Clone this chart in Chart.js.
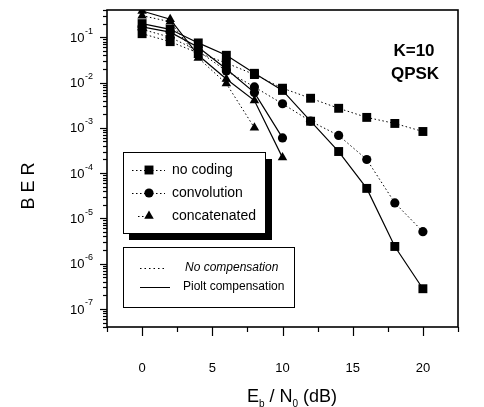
<!DOCTYPE html>
<html>
<head>
<meta charset="utf-8">
<script src="https://cdn.jsdelivr.net/npm/chart.js@4.4.1/dist/chart.umd.min.js"></script>
<style>
  html, body { margin: 0; padding: 0; background: #fff; }
  #wrap { width: 484px; height: 407px; position: relative; }
</style>
</head>
<body>
<div id="wrap"><canvas id="berChart"></canvas></div>
<script>
// Eb/N0 (dB) sample points
const ebno = [0, 2, 4, 6, 8, 10, 12, 14, 16, 18, 20];

// BER values (dotted = no compensation, solid = pilot compensation)
const noCodingNoComp = [0.12, 0.08, 0.045, 0.027, 0.015, 0.0075, 0.0045, 0.0027, 0.0017, 0.00125, 0.00083];
const noCodingPilot = [0.2, 0.15, 0.075, 0.04, 0.016, 0.0067, 0.0014, 0.0003, 0.000046, 0.0000024, 0.00000028];
const convNoComp = [0.15, 0.1, 0.05, 0.018, 0.008, 0.0034, 0.0014, 0.00068, 0.0002, 0.000022, 0.0000051];
const convPilot = [0.17, 0.13, 0.06, 0.02, 0.006, 0.0006];
const concatNoComp = [0.3, 0.22, 0.035, 0.0095, 0.001];
const concatPilot = [0.38, 0.25, 0.04, 0.012, 0.004, 0.00022];

// axis ticks
const xTickLabels = [0, 5, 10, 15, 20];
const yDecades = [-1, -2, -3, -4, -5, -6, -7];

const FONT = "'Liberation Sans', Arial, sans-serif";
const DOTS = [1.5, 2.5];

function pts(values) {
    return values.map((v, i) => ({ x: ebno[i], y: v }));
}

function series(label, values, style, dotted) {
    return {
        label: label,
        data: pts(values),
        borderColor: '#000',
        backgroundColor: '#000',
        borderWidth: dotted ? 1 : 1.2,
        borderDash: dotted ? DOTS : [],
        pointStyle: style,
        pointRadius: style === 'rect' ? 6.3 : (style === 'triangle' ? 5.5 : 4.6),
        pointBorderWidth: 0,
        tension: 0
    };
}

// frame, ticks, labels and the two legend boxes
const decorations = {
    id: 'decorations',
    afterDraw(chart) {
        const { ctx, chartArea: a, scales: { x, y } } = chart;
        ctx.save();
        ctx.strokeStyle = '#000';
        ctx.fillStyle = '#000';

        // plot frame
        ctx.lineWidth = 1.6;
        ctx.strokeRect(a.left, a.top, a.right - a.left, a.bottom - a.top);

        // y ticks (major + minor) on log scale
        ctx.lineWidth = 1.2;
        for (let e = -8; e <= 0; e++) {
            for (let m = 1; m <= 9; m++) {
                const v = m * Math.pow(10, e);
                if (v < y.min || v > y.max) continue;
                const py = Math.round(y.getPixelForValue(v)) + 0.5;
                const len = m === 1 ? 7 : 4;
                ctx.beginPath();
                ctx.moveTo(a.left - len, py);
                ctx.lineTo(a.left, py);
                ctx.stroke();
            }
        }

        // y labels 10^n
        yDecades.forEach(e => {
            const py = y.getPixelForValue(Math.pow(10, e));
            const exp = String(e);
            ctx.font = '9px ' + FONT;
            const ew = ctx.measureText(exp).width;
            ctx.textAlign = 'left';
            ctx.textBaseline = 'middle';
            ctx.fillText(exp, 93 - ew, py - 6);
            ctx.font = '13px ' + FONT;
            ctx.textAlign = 'right';
            ctx.fillText('10', 92.5 - ew, py + 1);
        });

        // x ticks
        for (let v = -2.5; v <= 22.5; v += 2.5) {
            const px = Math.round(x.getPixelForValue(v)) + 0.5;
            const len = v % 5 === 0 ? 9 : 5;
            ctx.beginPath();
            ctx.moveTo(px, a.bottom);
            ctx.lineTo(px, a.bottom + len);
            ctx.stroke();
        }

        // axis titles
        ctx.save();
        ctx.translate(29, 186);
        ctx.rotate(-Math.PI / 2);
        ctx.font = '18px ' + FONT;
        ctx.textAlign = 'center';
        ctx.textBaseline = 'middle';
        ctx.fillText('B E R', 0, 0);
        ctx.restore();

        const parts = [['E', 18, 0], ['b', 10, 5], [' / N', 18, 0], ['0', 10, 5], [' (dB)', 18, 0]];
        let total = 0;
        parts.forEach(p => { ctx.font = p[1] + 'px ' + FONT; total += ctx.measureText(p[0]).width; });
        let cx = 292 - total / 2;
        ctx.textAlign = 'left';
        ctx.textBaseline = 'alphabetic';
        parts.forEach(p => {
            ctx.font = p[1] + 'px ' + FONT;
            ctx.fillText(p[0], cx, 402 + p[2]);
            cx += ctx.measureText(p[0]).width;
        });

        // annotation
        ctx.font = 'bold 17px ' + FONT;
        ctx.textAlign = 'center';
        ctx.textBaseline = 'middle';
        ctx.fillText('K=10', 414, 51);
        ctx.fillText('QPSK', 415, 74);

        // legend box 1 with drop shadow
        ctx.fillRect(129, 159, 143, 81);
        ctx.fillStyle = '#fff';
        ctx.fillRect(123, 152, 142, 81);
        ctx.lineWidth = 1;
        ctx.strokeRect(123.5, 152.5, 142, 81);

        const entries = [['no coding', 'rect', 6.3, 170, 132], ['convolution', 'circle', 4.6, 193, 132], ['concatenated', 'triangle', 5.5, 216, 138]];
        entries.forEach(en => {
            ctx.strokeStyle = '#000';
            ctx.lineWidth = 1;
            ctx.setLineDash(DOTS);
            ctx.beginPath();
            ctx.moveTo(en[4], en[3] + 0.5);
            ctx.lineTo(en[1] === 'triangle' ? 149 : 165, en[3] + 0.5);
            ctx.stroke();
            ctx.setLineDash([]);
            ctx.fillStyle = '#000';
            Chart.helpers.drawPoint(ctx, { pointStyle: en[1], radius: en[2], rotation: 0, borderWidth: 0 }, 149, en[3]);
            ctx.font = '14px ' + FONT;
            ctx.textAlign = 'left';
            ctx.textBaseline = 'middle';
            ctx.fillText(en[0], 172, en[3]);
        });

        // legend box 2
        ctx.strokeRect(123.5, 247.5, 171, 60);
        ctx.setLineDash([1.5, 3]);
        ctx.beginPath();
        ctx.moveTo(140, 268.5);
        ctx.lineTo(166, 268.5);
        ctx.stroke();
        ctx.setLineDash([]);
        ctx.beginPath();
        ctx.moveTo(140, 287.5);
        ctx.lineTo(170, 287.5);
        ctx.stroke();
        ctx.font = 'italic 12px ' + FONT;
        ctx.fillText('No compensation', 185, 268);
        ctx.font = '12px ' + FONT;
        ctx.fillText('Piolt compensation', 183, 287);

        ctx.restore();
    }
};

new Chart(document.getElementById('berChart'), {
    type: 'line',
    data: {
        datasets: [
            series('no coding', noCodingNoComp, 'rect', true),
            series('no coding (pilot)', noCodingPilot, 'rect', false),
            series('convolution', convNoComp, 'circle', true),
            series('convolution (pilot)', convPilot, 'circle', false),
            series('concatenated', concatNoComp, 'triangle', true),
            series('concatenated (pilot)', concatPilot, 'triangle', false)
        ]
    },
    options: {
        responsive: true,
        maintainAspectRatio: false,
        animation: false,
        layout: { padding: { top: 10, right: 10, left: 0, bottom: 0 } },
        plugins: {
            legend: { display: false },
            tooltip: { enabled: false }
        },
        scales: {
            x: {
                type: 'linear',
                min: -2.5,
                max: 22.5,
                grid: { display: false },
                border: { display: false },
                afterFit: scale => { scale.height = 80; },
                ticks: {
                    stepSize: 2.5,
                    autoSkip: false,
                    maxRotation: 0,
                    padding: 26,
                    color: '#000',
                    font: { family: FONT, size: 13 },
                    callback: v => xTickLabels.includes(v) ? String(v) : ''
                }
            },
            y: {
                type: 'logarithmic',
                min: 4e-8,
                max: 0.4,
                grid: { display: false },
                border: { display: false },
                afterFit: scale => { scale.width = 107; },
                ticks: { display: false }
            }
        }
    },
    plugins: [decorations]
});
</script>
</body>
</html>
